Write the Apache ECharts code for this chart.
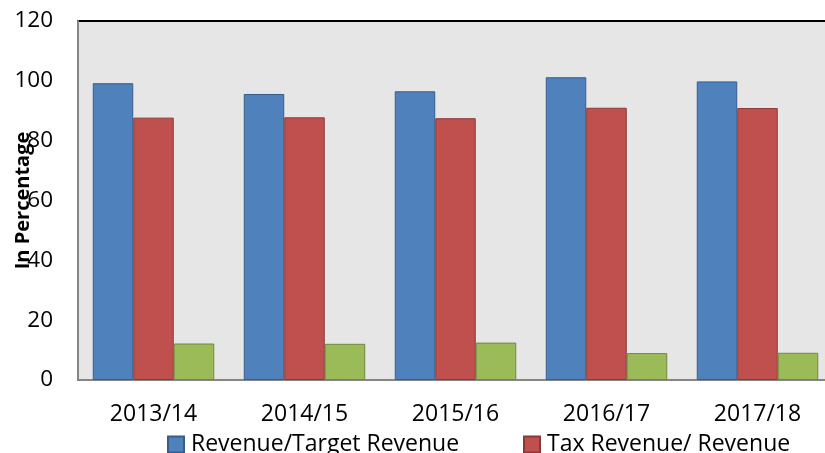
<!DOCTYPE html>
<html>
<head>
<meta charset="utf-8">
<script src="https://cdn.jsdelivr.net/npm/echarts@6/dist/echarts.min.js"></script>
<style>
  html, body { margin: 0; padding: 0; background: #fff; }
  #chart { width: 825px; height: 453px; }
</style>
</head>
<body>
<div id="chart"></div>
<script>
  // values (percent)
  var years = ['2013/14', '2014/15', '2015/16', '2016/17', '2017/18'];
  var revenueTarget = [99.2, 95.6, 96.5, 101.2, 99.8];
  var taxRevenue = [87.7, 87.8, 87.5, 91.0, 90.9];
  var nonTaxRevenue = [12.2, 12.1, 12.5, 9.0, 9.1];
  var yTicks = { min: 0, max: 120, interval: 20 };

  var font = 'Open Sans';
  var chart = echarts.init(document.getElementById('chart'));

  function barSeries(name, data, fill, border) {
    return {
      name: name,
      type: 'bar',
      data: data,
      barWidth: 40.5,
      barGap: '0%',
      itemStyle: { color: fill, borderColor: border, borderWidth: 1 },
      emphasis: { disabled: true }
    };
  }

  function legendAt(left, name) {
    return {
      left: left,
      top: 433,
      data: [name],
      icon: 'rect',
      itemWidth: 16,
      itemHeight: 16,
      itemGap: 0,
      padding: 0,
      textStyle: { fontFamily: font, fontSize: 23, color: '#000', padding: [0, 0, 0, 2] }
    };
  }

  chart.setOption({
    animation: false,
    textStyle: { fontFamily: font },
    grid: {
      left: 78, top: 21, width: 755, height: 359,
      containLabel: false, outerBoundsMode: 'none',
      show: true, backgroundColor: '#e6e6e6',
      borderColor: '#000', borderWidth: 2
    },
    legend: [
      legendAt(167, 'Revenue/Target Revenue'),
      legendAt(523, 'Tax Revenue/ Revenue')
    ],
    xAxis: {
      type: 'category',
      data: years,
      axisLine: { lineStyle: { color: '#868686', width: 2 } },
      axisTick: { show: false },
      axisLabel: { color: '#000', fontSize: 23, fontFamily: font, margin: 23 }
    },
    yAxis: {
      type: 'value',
      min: yTicks.min, max: yTicks.max, interval: yTicks.interval,
      name: 'In Percentage',
      nameLocation: 'middle',
      nameGap: 45,
      nameMoveOverlap: false,
      nameTextStyle: { color: '#000', fontSize: 20, fontWeight: 'bold', fontFamily: font },
      axisLine: { show: true, lineStyle: { color: '#868686', width: 2 } },
      axisTick: { show: false },
      splitLine: { show: false },
      axisLabel: { color: '#000', fontSize: 22.5, fontFamily: font, margin: 25 }
    },
    series: [
      barSeries('Revenue/Target Revenue', revenueTarget, '#4f81bd', '#385d8a'),
      barSeries('Tax Revenue/ Revenue', taxRevenue, '#c0504d', '#8c3836'),
      barSeries('Non-Tax Revenue/ Revenue', nonTaxRevenue, '#9bbb59', '#71893f')
    ]
  });
</script>
</body>
</html>
